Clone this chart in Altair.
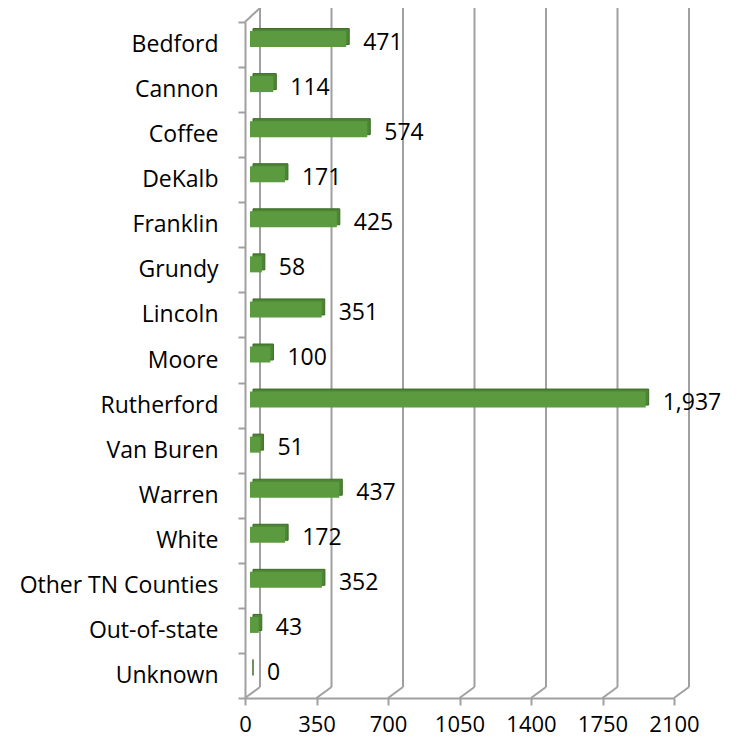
import altair as alt
import pandas as pd

counties = ["Bedford", "Cannon", "Coffee", "DeKalb", "Franklin", "Grundy", "Lincoln",
            "Moore", "Rutherford", "Van Buren", "Warren", "White",
            "Other TN Counties", "Out-of-state", "Unknown"]
values = [471, 114, 574, 171, 425, 58, 351, 100, 1937, 51, 437, 172, 352, 43, 0]
ticks = [0, 350, 700, 1050, 1400, 1750, 2100]

df = pd.DataFrame({"county": counties, "value": values})
gdf = pd.DataFrame({"t": ticks})

FONT = "Open Sans"
GRID = "#a0a0a0"
FS = 23

xscale = alt.Scale(domain=[0, 2100], nice=False, zero=True)
xenc = alt.X("value:Q", scale=xscale,
             axis=alt.Axis(values=ticks, format="d", grid=False, title=None, labelFont=FONT,
                           labelFontSize=22, labelColor="#000000", domainColor=GRID,
                           domainWidth=2, tickColor=GRID, tickWidth=2, tickSize=7,
                           labelPadding=9, labelFlush=False))
yenc = alt.Y("county:N", sort=None,
             axis=alt.Axis(title=None, labelFont=FONT, labelFontSize=FS,
                           labelColor="#000000", domainColor=GRID, domainWidth=2,
                           tickColor=GRID, tickWidth=2, tickSize=7, tickBand="extent",
                           labelPadding=20, labelLimit=400, grid=False),
             scale=alt.Scale(paddingInner=0, paddingOuter=0))

# back wall gridlines (shifted for depth)
grid = alt.Chart(gdf).mark_rule(color=GRID, strokeWidth=2, xOffset=15).encode(
    x=alt.X("t:Q", scale=xscale),
    y=alt.value(-14), y2=alt.value(665))
# floor depth diagonals
diag = alt.Chart(gdf).mark_rule(color=GRID, strokeWidth=2, x2Offset=15).encode(
    x=alt.X("t:Q", scale=xscale), x2="t:Q",
    y=alt.value(676), y2=alt.value(665))
# top-left depth diagonal
topdiag = alt.Chart(pd.DataFrame({"t": [0]})).mark_rule(color=GRID, strokeWidth=2, x2Offset=15).encode(
    x=alt.X("t:Q", scale=xscale), x2="t:Q",
    y=alt.value(0), y2=alt.value(-14))

top = alt.Chart(df).mark_bar(color="#4c8534", size=16, xOffset=8, yOffset=-8,
                             stroke="#3c6a27", strokeWidth=1).encode(x=xenc, y=yenc)
front = alt.Chart(df).mark_bar(color="#5b9a3e", size=16, xOffset=5, yOffset=-5.5).encode(
    x=xenc, y=yenc)
labels = alt.Chart(df).mark_text(align="left", baseline="middle", dx=22, dy=-2,
                                 font=FONT, fontSize=FS, color="#000000").encode(
    x=xenc, y=yenc, text=alt.Text("value:Q", format=","))

chart = alt.layer(grid, diag, topdiag, top, front, labels).properties(
    width=429, height=676,
    autosize=alt.AutoSizeParams(type="none"),
    padding={"left": 237, "top": 14, "right": 59, "bottom": 39},
    background="#ffffff",
).configure_view(strokeWidth=0, stroke="transparent")

chart.save("out.html", embed_options={"renderer": "svg", "actions": False})
